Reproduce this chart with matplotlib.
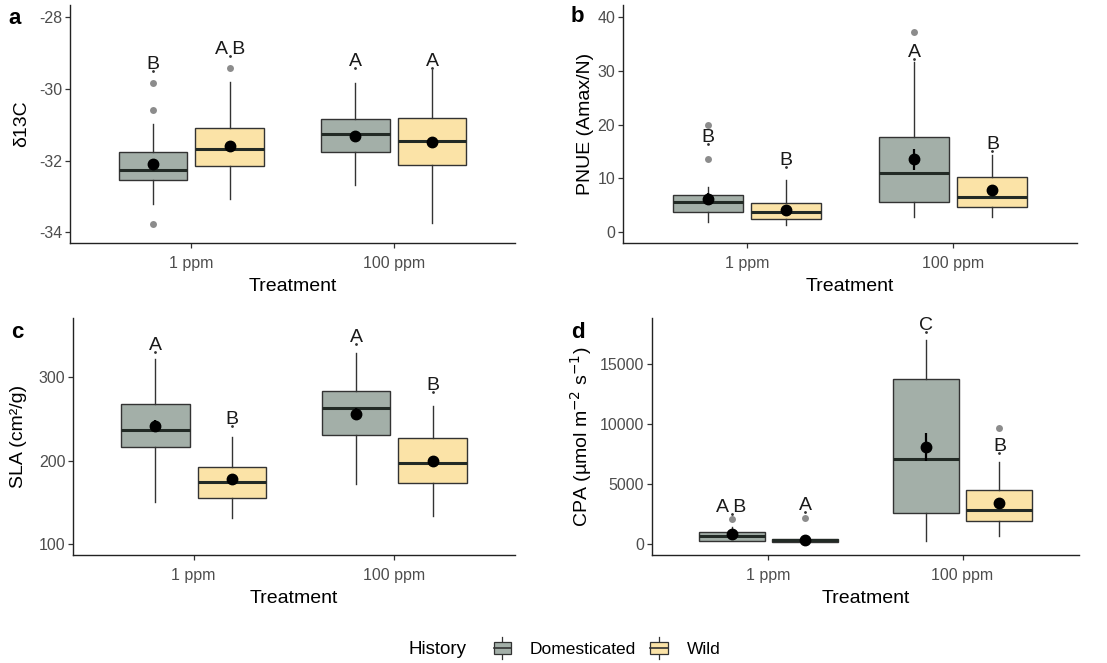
import matplotlib.pyplot as plt
from matplotlib.legend_handler import HandlerBase
from matplotlib.patches import Rectangle
from matplotlib.lines import Line2D

plt.rcParams['font.family'] = ['Liberation Sans', 'DejaVu Sans']
plt.rcParams['axes.unicode_minus'] = False

# order of the four boxes: Domesticated 1 ppm, Wild 1 ppm, Domesticated 100 ppm, Wild 100 ppm
treatments = ['1 ppm', '100 ppm']
history = ['Domesticated', 'Wild']
fills = ['#A3AFA8', '#FBE3A7']

# delta 13C
d13c_q1 = [-32.55, -32.15, -31.76, -32.11]
d13c_med = [-32.25, -31.69, -31.27, -31.46]
d13c_q3 = [-31.76, -31.09, -30.85, -30.81]
d13c_lo = [-33.20, -33.07, -32.69, -33.75]
d13c_hi = [-30.97, -29.81, -29.83, -29.48]
d13c_mean = [-32.09, -31.58, -31.31, -31.48]
d13c_se = [0.12, 0.12, 0.10, 0.12]
d13c_out = [[-29.83, -30.58, -33.78], [-29.41], [], []]
d13c_letters = ['B', 'A B', 'A', 'A']
d13c_letter_y = [-29.50, -29.08, -29.42, -29.43]

# PNUE
pnue_q1 = [3.73, 2.36, 5.53, 4.66]
pnue_med = [5.47, 3.61, 10.88, 6.53]
pnue_q3 = [6.84, 5.29, 17.6, 10.26]
pnue_lo = [1.87, 1.24, 2.8, 2.8]
pnue_hi = [8.4, 9.64, 31.7, 14.3]
pnue_mean = [6.2, 4.04, 13.5, 7.77]
pnue_se = [1.0, 0.6, 2.0, 0.8]
pnue_out = [[19.9, 13.56], [], [37.2], []]
pnue_letters = ['B', 'B', 'A', 'B']
pnue_letter_y = [16.4, 12.0, 32.2, 15.1]

# SLA
sla_q1 = [216.0, 155.2, 230.8, 173.6]
sla_med = [237.2, 175.2, 262.8, 196.8]
sla_q3 = [268.0, 192.4, 283.2, 227.6]
sla_lo = [151.2, 131.2, 172.4, 134.4]
sla_hi = [322.0, 228.0, 329.2, 265.2]
sla_mean = [242.0, 178.0, 256.0, 199.2]
sla_se = [7.0, 5.0, 7.0, 6.0]
sla_out = [[], [], [], []]
sla_letters = ['A', 'B', 'A', 'B']
sla_letter_y = [330.4, 241.2, 339.6, 282.4]

# CPA
cpa_q1 = [278, 167, 2583, 1972]
cpa_med = [694, 333, 7139, 2861]
cpa_q3 = [1056, 444, 13750, 4528]
cpa_lo = [278, 167, 305, 722]
cpa_hi = [1472, 444, 16972, 6889]
cpa_mean = [861, 361, 8083, 3417]
cpa_se = [400, 100, 1150, 400]
cpa_out = [[2083], [2222], [], [9667]]
cpa_letters = ['A B', 'A', 'C', 'B']
cpa_letter_y = [2528, 2667, 17667, 7583]


class BoxHandler(HandlerBase):
    # little boxplot glyph for the legend keys
    def __init__(self, fill):
        super().__init__()
        self.fill = fill

    def create_artists(self, legend, orig_handle, xdescent, ydescent,
                       width, height, fontsize, trans):
        cx = width / 2 - xdescent
        box = Rectangle((-xdescent, -ydescent + height * 0.05), width, height * 0.9,
                        facecolor=self.fill, edgecolor='#333333', lw=0.9, transform=trans)
        med = Line2D([-xdescent, width - xdescent], [-ydescent + height / 2] * 2,
                     color='#333333', lw=1.2, transform=trans)
        wh = Line2D([cx, cx], [-ydescent - height * 0.3, -ydescent + height * 1.3],
                    color='#333333', lw=0.9, transform=trans)
        return [wh, box, med]


def panel(ax, q1, med, q3, lo, hi, mean, se, out, letters, letter_y,
          ylabel, ylim, yticks, label_x):
    pos = []
    stats = []
    for g in range(2):
        for h in range(2):
            k = g * 2 + h
            pos.append(g + 1 + (-0.19 if h == 0 else 0.19))
            stats.append(dict(med=med[k], q1=q1[k], q3=q3[k], whislo=lo[k],
                              whishi=hi[k], fliers=out[k]))
    bp = ax.bxp(stats, positions=pos, widths=0.34, patch_artist=True,
                showcaps=False,
                boxprops=dict(edgecolor='#333333', linewidth=1.0),
                whiskerprops=dict(color='#333333', linewidth=1.0),
                medianprops=dict(color='#222A25', linewidth=2.2),
                flierprops=dict(marker='o', markersize=5, markerfacecolor='#8C8C8C',
                                markeredgecolor='none'))
    for k, b in enumerate(bp['boxes']):
        b.set_facecolor(fills[k % 2])
    ax.errorbar(pos, mean, yerr=se, fmt='o', color='black', markersize=7.5,
                elinewidth=1.6, capsize=0, zorder=5)
    for k in range(4):
        ax.plot(pos[k], letter_y[k], 'o', color='#333333', markersize=1.0, zorder=4)
        ax.annotate(letters[k], (pos[k], letter_y[k]), xytext=(0, 1.5),
                    textcoords='offset points', ha='center', va='baseline',
                    fontsize=14, color='#1A1A1A')
    ax.set_xlim(0.4, 2.6)
    ax.set_ylim(*ylim)
    ax.set_yticks(yticks)
    ax.set_xticks([1, 2])
    ax.set_xticklabels(treatments)
    ax.set_xlabel('Treatment', fontsize=14, color='black', labelpad=5)
    ax.set_ylabel(ylabel, fontsize=14, color='black')
    ax.yaxis.set_label_coords(label_x, 0.5)
    for s in ['top', 'right']:
        ax.spines[s].set_visible(False)
    for s in ['left', 'bottom']:
        ax.spines[s].set_color('#222222')
        ax.spines[s].set_linewidth(1.0)
    ax.tick_params(axis='both', labelsize=11.5, labelcolor='#4D4D4D',
                   color='#333333', length=3.5, width=0.9)
    ax.tick_params(axis='x', pad=6)
    ax.tick_params(axis='y', pad=2)


fig = plt.figure(figsize=(11.07, 6.63), dpi=100)
W, H = 1107, 663


def box(x0, x1, y0, y1):
    return [x0 / W, 1 - y1 / H, (x1 - x0) / W, (y1 - y0) / H]


ax_a = fig.add_axes(box(70, 515, 5, 243))
ax_b = fig.add_axes(box(623, 1077, 5, 243))
ax_c = fig.add_axes(box(73, 515, 318, 555))
ax_d = fig.add_axes(box(652, 1079, 318, 555))

panel(ax_a, d13c_q1, d13c_med, d13c_q3, d13c_lo, d13c_hi, d13c_mean, d13c_se,
      d13c_out, d13c_letters, d13c_letter_y, 'δ13C', (-34.3, -27.66),
      [-34, -32, -30, -28], -0.09)
panel(ax_b, pnue_q1, pnue_med, pnue_q3, pnue_lo, pnue_hi, pnue_mean, pnue_se,
      pnue_out, pnue_letters, pnue_letter_y, 'PNUE (Amax/N)', (-2.1, 42.3),
      [0, 10, 20, 30, 40], -0.064)
panel(ax_c, sla_q1, sla_med, sla_q3, sla_lo, sla_hi, sla_mean, sla_se,
      sla_out, sla_letters, sla_letter_y, 'SLA (cm²/g)', (87.2, 371),
      [100, 200, 300], -0.104)
panel(ax_d, cpa_q1, cpa_med, cpa_q3, cpa_lo, cpa_hi, cpa_mean, cpa_se,
      cpa_out, cpa_letters, cpa_letter_y, r'CPA (µmol m$^{-2}$ s$^{-1}$)',
      (-889, 18833), [0, 5000, 10000, 15000], -0.135)

for lab, x, y in [('a', 15, 18), ('b', 577, 17), ('c', 17, 333), ('d', 578, 332)]:
    fig.text(x / W, 1 - y / H, lab, fontsize=16, fontweight='bold',
             ha='center', va='center')

# legend along the bottom
fig.text(408 / W, 1 - 649 / H, 'History', fontsize=13.5, ha='left', va='center')
handles = [Rectangle((0, 0), 1, 1), Rectangle((0, 0), 1, 1)]
fig.legend(handles, history, loc='center left', bbox_to_anchor=(478 / W, 1 - 649 / H),
           ncol=2, frameon=False, fontsize=12.5, handlelength=1.0, handleheight=0.85,
           handletextpad=1.1, columnspacing=0.8,
           handler_map={handles[0]: BoxHandler(fills[0]), handles[1]: BoxHandler(fills[1])})

fig.savefig('out.png', dpi=100)
